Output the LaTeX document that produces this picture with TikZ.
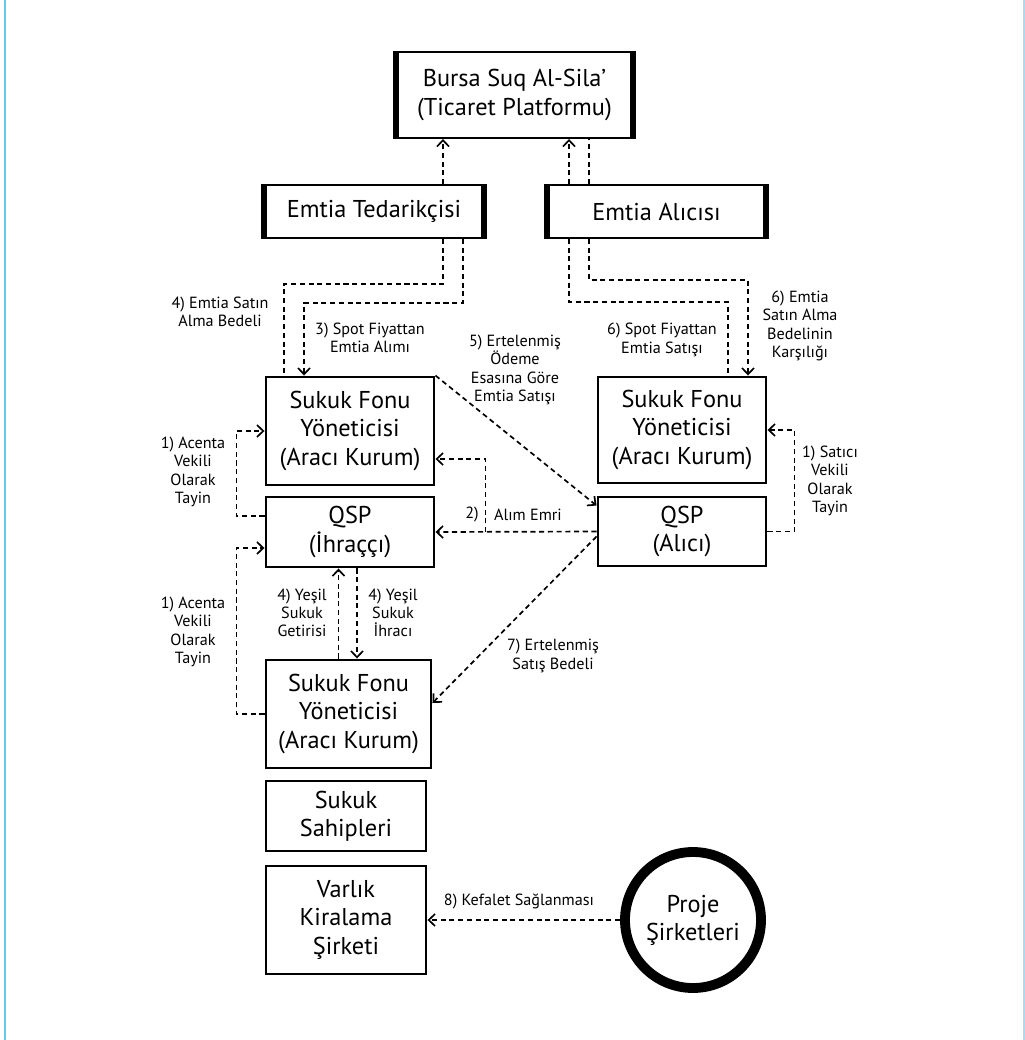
\documentclass[tikz,border=0pt]{standalone}
\usepackage{fontspec}
\setmainfont{PT Sans}
\usetikzlibrary{arrows.meta}
\definecolor{framebl}{RGB}{100,200,240}
\def\pix{0.025cm}

\begin{document}
\begin{tikzpicture}[x=0.025cm,y=-0.025cm,
 box/.style={draw,line width=2.1pt,align=center,inner sep=0pt,
  font=\fontsize{17.3}{20}\selectfont},
 flatbox/.style={box,line width=1.4pt},
 side/.style={line width=3.6pt},
 ring/.style={circle,draw,line width=7pt,align=center,inner sep=0pt,
  minimum size=136*\pix,font=\fontsize{17.3}{20}\selectfont},
 lbl/.style={align=center,inner sep=0pt,font=\fontsize{11.5}{13}\selectfont},
 link/.style={line width=1.2pt,dash pattern=on 3.6pt off 2.6pt},
 >={Straight Barb[length=4.5pt,width=8.5pt]}]

\useasboundingbox (0,0) rectangle (1025,1040);
\draw [framebl,line width=1.5pt] (5,0)--(5,1040);
\draw [framebl!60,line width=1.5pt] (1024,0)--(1024,1040);

\node [flatbox,minimum width=235*\pix,minimum height=86*\pix] (bursa) at (514.5,95)
 {Bursa Suq Al-Sila'\\(Ticaret Platformu)};
\node [flatbox,minimum width=218*\pix,minimum height=53*\pix] (tedarik) at (374,211.5)
 {Emtia Tedarikçisi};
\node [flatbox,minimum width=217*\pix,minimum height=53*\pix] (alici) at (656.5,211.5)
 {Emtia Alıcısı};
\draw [side] (bursa.north west)--(bursa.south west);
\draw [side] (bursa.north east)--(bursa.south east);
\draw [side] (tedarik.north west)--(tedarik.south west);
\draw [side] (tedarik.north east)--(tedarik.south east);
\draw [side] (alici.north west)--(alici.south west);
\draw [side] (alici.north east)--(alici.south east);

\node [box,minimum width=168*\pix,minimum height=108*\pix] (fonsol) at (350,431)
 {Sukuk Fonu\\Yöneticisi\\(Aracı Kurum)};
\node [box,minimum width=168*\pix,minimum height=70*\pix] (qspihrac) at (350,532)
 {QSP\\(İhraççı)};
\node [box,minimum width=165*\pix,minimum height=108*\pix] (fonalt) at (348.5,714)
 {Sukuk Fonu\\Yöneticisi\\(Aracı Kurum)};
\node [box,minimum width=168*\pix,minimum height=106*\pix] (fonsag) at (682,430)
 {Sukuk Fonu\\Yöneticisi\\(Aracı Kurum)};
\node [box,minimum width=168*\pix,minimum height=69*\pix] (qspalici) at (682,531.5)
 {QSP\\(Alıcı)};
\node [box,minimum width=160*\pix,minimum height=70*\pix] (sahip) at (346,816)
 {Sukuk\\Sahipleri};
\node [box,minimum width=160*\pix,minimum height=108*\pix] (varlik) at (346,920)
 {Varlık\\Kiralama\\Şirketi};
\node [ring] (proje) at (693,920) {Proje\\Şirketleri};

\draw [link,->] ([xshift=69*\pix]tedarik.north)--([xshift=69*\pix]tedarik.north |- bursa.south);
\draw [link,->] ([xshift=-87.5*\pix]alici.north)--([xshift=-87.5*\pix]alici.north |- bursa.south);
\draw [link] ([xshift=-67.5*\pix]alici.north)--([xshift=-67.5*\pix]alici.north |- bursa.south);

\draw [link] ([xshift=69*\pix]tedarik.south)--++(0,45)-|([xshift=-66*\pix]fonsol.north);
\draw [link,->] ([xshift=89*\pix]tedarik.south)--++(0,64)-|([xshift=-46*\pix]fonsol.north);
\node [lbl] at (220,312) {4) Emtia Satın\\Alma Bedeli};
\node [lbl] at (370,338) {3) Spot Fiyattan\\Emtia Alımı};

\draw [link] ([xshift=-87.5*\pix]alici.south)--++(0,63)-|([xshift=46*\pix]fonsag.north);
\draw [link,->] ([xshift=-67.5*\pix]alici.south)--++(0,41)-|([xshift=66*\pix]fonsag.north);
\node [lbl] at (662,340) {6) Spot Fiyattan\\Emtia Satışı};
\node [lbl] at (800,326) {6) Emtia\\Satın Alma\\Bedelinin\\Karşılığı};

\draw [link,->] (fonsol.north east)--([yshift=-10*\pix]qspalici.north west);
\node [lbl] at (515,370) {5) Ertelenmiş\\Ödeme\\Esasına Göre\\Emtia Satışı};

\draw [link,->] (qspalici.west)--(qspihrac.east);
\draw [link,->] ([xshift=50*\pix]qspihrac.east)|-([yshift=-28*\pix]fonsol.east);
\node [lbl] at (472,515) {2)};
\node [lbl] at (528,515) {Alım Emri};

\draw [link,->] ([yshift=16*\pix]qspihrac.west)--++(-28,0)|-(fonsol.west);
\node [lbl] at (193,472) {1) Acenta\\Vekili\\Olarak\\Tayin};
\draw [link,->] (fonalt.west)--++(-28,0)|-([yshift=-16*\pix]qspihrac.west);
\node [lbl] at (193,632) {1) Acenta\\Vekili\\Olarak\\Tayin};

\draw [link,->] ([xshift=-10*\pix]fonalt.north)--([xshift=-10*\pix]fonalt.north |- qspihrac.south);
\draw [link,->] ([xshift=7*\pix]qspihrac.south)--([xshift=7*\pix]qspihrac.south |- fonalt.north);
\node [lbl] at (302,613) {4) Yeşil\\Sukuk\\Getirisi};
\node [lbl] at (393,613) {4) Yeşil\\Sukuk\\İhracı};

\draw [link,->] ([yshift=-5*\pix]qspalici.west)--([yshift=11*\pix]fonalt.east);
\node [lbl] at (553,656) {7) Ertelenmiş\\Satış Bedeli};

\draw [link,->] (qspalici.east)--++(27,0)|-(fonsag.east);
\node [lbl] at (830,481) {1) Satıcı\\Vekili\\Olarak\\Tayin};

\draw [link,->] (proje.west)--(varlik.east);
\node [lbl] at (519,901) {8) Kefalet Sağlanması};
\end{tikzpicture}
\end{document}
